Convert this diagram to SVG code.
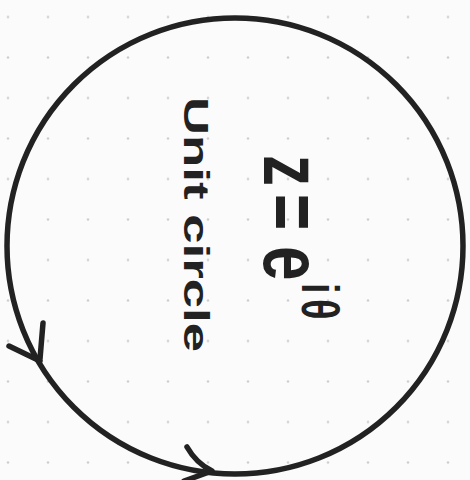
<svg xmlns="http://www.w3.org/2000/svg" width="470" height="480" viewBox="0 0 470 480">
<defs>
<pattern id="dots" x="-12" y="-3.25" width="40" height="40.5" patternUnits="userSpaceOnUse">
<circle cx="20" cy="20.25" r="1.3" fill="#cfcfcf"/>
</pattern>
<style>
.ink{fill:none;stroke:#222;stroke-width:5.5;stroke-linecap:round;stroke-linejoin:round}
.hand{font-family:"Liberation Sans",Arial,sans-serif;font-weight:bold;fill:#222}
</style>
</defs>
<rect width="470" height="480" fill="#fbfbfb"/>
<rect width="470" height="480" fill="url(#dots)"/>
<g id="unit-circle">
<circle class="ink" cx="235" cy="246" r="228"/>
</g>
<g id="connectors">
<path class="ink" d="M9,346 L40,361 M43,323 L40,359"/>
<path class="ink" d="M187,447 Q196,463 212,471 M184,481 L212,471"/>
</g>
<g id="label-unit-circle">
<text class="hand" font-size="35" transform="translate(184,97) rotate(90)" textLength="255" lengthAdjust="spacingAndGlyphs">Unit circle</text>
</g>
<g id="label-formula">
<text class="hand" transform="translate(264,0) rotate(90) scale(1,1.35)"><tspan x="155" y="0" font-size="62">z</tspan><tspan x="194" y="0" font-size="62">=</tspan><tspan x="246" y="0" font-size="62">e</tspan><tspan x="283" y="-28" font-size="38">i</tspan><tspan x="299" y="-28" font-size="38">θ</tspan></text>
</g>
</svg>
